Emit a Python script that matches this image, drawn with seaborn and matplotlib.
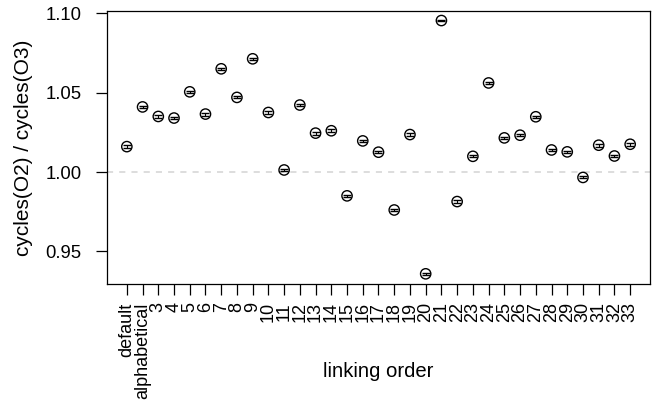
import matplotlib
matplotlib.use("Agg")
import matplotlib.pyplot as plt
import seaborn as sns
import pandas as pd

orders = ["default", "alphabetical"] + [str(i) for i in range(3, 34)]
ratio = [1.016, 1.041, 1.035, 1.034, 1.0505, 1.0365, 1.065, 1.047, 1.0713, 1.0375,
         1.0013, 1.0422, 1.0245, 1.026, 0.985, 1.0196, 1.0125, 0.9761, 1.0236, 0.9359,
         1.0954, 0.9814, 1.0099, 1.0561, 1.0215, 1.0232, 1.0348, 1.0139, 1.0127, 0.9966,
         1.0169, 1.0101, 1.0175]
err = [0.0008, 0.0004, 0.0009, 0.0008, 0.0007, 0.0009, 0.0007, 0.0006, 0.0005, 0.0010,
       0.0004, 0.0007, 0.0009, 0.0010, 0.0007, 0.0008, 0.0007, 0.0007, 0.0008, 0.0007,
       0.0006, 0.0007, 0.0007, 0.0007, 0.0006, 0.0008, 0.0008, 0.0007, 0.0004, 0.0006,
       0.0009, 0.0007, 0.0008]
yticks = [0.95, 1.00, 1.05, 1.10]

df = pd.DataFrame({"order": orders, "ratio": ratio, "err": err})
df["pos"] = range(len(df))

sns.set_style("ticks")
plt.rcParams["font.family"] = ["Liberation Sans", "DejaVu Sans"]
for k in ["text.color", "axes.labelcolor", "xtick.color", "ytick.color", "axes.edgecolor"]:
    plt.rcParams[k] = "black"

fig = plt.figure(figsize=(6.57, 4.03), dpi=100)
ax = fig.add_axes([106.7 / 657, 1 - 284.3 / 403, (650.3 - 106.7) / 657, (284.3 - 10.7) / 403])

ax.axhline(1.0, color="#d3d3d3", lw=1.1, ls=(0, (4, 4)), zorder=1)
ax.errorbar(df["pos"], df["ratio"], yerr=df["err"], fmt="none", ecolor="black",
            elinewidth=0.8, capsize=2.9, capthick=1.0, zorder=2)
sns.scatterplot(data=df, x="pos", y="ratio", ax=ax, marker="o", s=55,
                facecolors="none", edgecolor="black", linewidth=1.0, zorder=3)

n = len(orders)
ax.set_xlim(-0.04 * (n - 1), (n - 1) * 1.04)
ax.set_ylim(0.9293, 1.1016)
ax.set_xticks(df["pos"])
ax.set_xticklabels(orders, rotation=90, fontsize=13)
ax.set_yticks(yticks)
ax.set_yticklabels([f"{v:.2f}" for v in yticks], fontsize=13.3)
ax.tick_params(axis="both", length=8, width=0.9, color="black", direction="out")
ax.tick_params(axis="y", pad=10)
ax.tick_params(axis="x", pad=5)
for s in ax.spines.values():
    s.set_visible(True)
    s.set_linewidth(0.9)
    s.set_color("black")

ax.set_xlabel("linking order", fontsize=14.6)
ax.set_ylabel("cycles(O2) / cycles(O3)", fontsize=15)
ax.xaxis.set_label_coords(0.5, -0.283)
ax.yaxis.set_label_coords(-0.135, 0.5)

fig.savefig("out.png", dpi=100)
